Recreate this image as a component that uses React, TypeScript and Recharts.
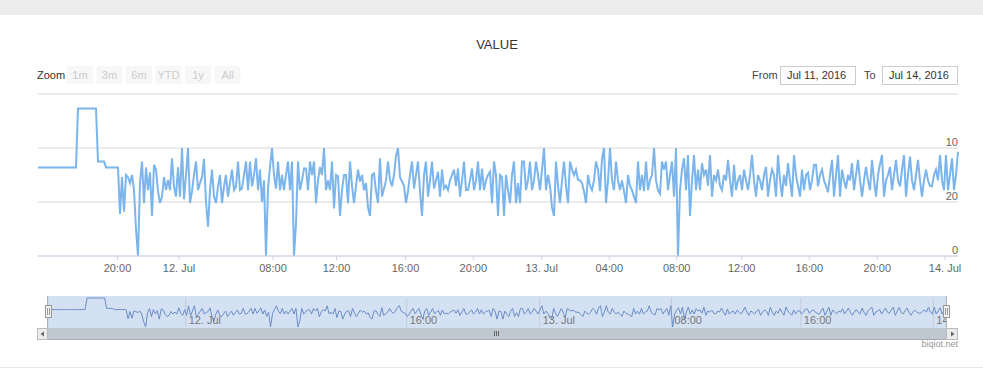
import { CartesianGrid, Line, LineChart, XAxis, YAxis } from "recharts";

// values, in point order (ordinal axis, points evenly spaced)
const startValues = [
  16.4, 16.4, 16.4, 16.4, 16.4, 16.4, 16.4, 16.4, 16.4, 16.4,
  16.4, 16.4, 16.4, 16.4, 16.4, 16.4, 16.4, 16.4, 16.4, 16.4,
  27.3, 27.3, 27.3, 27.3, 27.3, 27.3, 27.3, 27.3, 27.3, 27.3,
  17.5, 17.5, 17.5, 17.5,
  16.4, 16.4, 16.4, 16.4, 16.4, 16.4, 16.4,
];
const jul11Night = [
  7.8, 14.6, 8.2, 15, 14.6, 13.5, 15, 12.2, 5, 0,
  13.5, 17.5, 9.8, 16.4, 12.2, 15.5, 7.4, 16.9, 16, 12,
  9.8, 11, 14.6, 12.2, 14.1, 12.2, 18.1, 12.9, 11, 16.4,
  11, 20, 10.5, 15, 20, 9.8, 12, 15, 17.5,
];
const jul12Morning = [
  12.2, 13.5, 14.6, 18, 10, 5.4, 12.2, 16, 11, 9.8,
  12.9, 15, 9.8, 12.9, 15, 11, 13.5, 16, 12.2, 12.9,
  17.5, 12.2, 12.5, 15, 17.5, 12.2, 17.5, 12.9, 15, 18.1,
  12.2, 16, 10, 14, 0, 12.5, 16.5, 20, 15, 12.5,
  17.5, 12.2, 15, 12.2, 15, 17.5, 12.2, 17.5, 0, 6,
  17.5, 12.2, 14, 16.2, 16.2, 12.2, 17.5, 15, 17.5, 9.8,
  14, 16.5, 15, 20, 12.2, 14, 12.2, 17.5, 8.8, 15,
  14.8, 7.4, 12.2, 15, 15, 9.8, 17.5,
];
const jul12Afternoon = [
  13, 9.8, 13, 16, 13.8, 15, 12.2, 13.5, 9, 7.4,
  15, 15.3, 12, 9.8, 18.1, 11, 12.5, 14, 17.5, 14.1,
  12.9, 15, 18.5, 20, 14.6, 13.8, 13, 9.8, 12, 15,
  17.5, 12.5, 15, 17.5, 12, 7.4, 15, 17.5, 11, 14,
  17.5, 12.5, 14, 15.6, 11, 16, 12.5, 13, 12.2, 14,
  15, 16, 13, 16.2, 11, 14, 17.5, 12.2, 12.2, 14,
  16.2, 12.2, 14, 17.5, 12.2, 16.2, 12.2, 14, 15, 15.6,
  9.8, 17.5, 15, 7.4, 15, 14.6,
];
const jul13Early = [
  7.4, 15, 12.2, 9.8, 15, 17.5, 9.8, 13.5, 9.8, 17.5,
  17.5, 12.2, 14, 17.5, 12.2, 14, 17.5, 15, 12.2, 16,
  20, 12.2, 15, 13, 9, 7.4, 17.5, 13, 9.8, 14,
  17.5, 13, 9.8, 17.5, 16, 15, 16, 14.1, 14, 13.5,
  12, 9.8, 15, 13, 12.2, 14, 17.5, 16, 12, 18,
  20, 9.8, 14, 20, 14, 12.2, 17.5, 14, 12.2, 14,
  12, 9.8, 15, 13, 12.2, 11, 9.8, 17.5, 12.2, 15,
  12, 17.5, 12.2, 14, 15, 20, 14, 12.2,
];
const jul13Day = [
  11.5, 17.5, 16, 17.5, 12.2, 15, 17.5, 11, 20, 0,
  12.2, 16, 18.1, 12.2, 18.7, 7.4, 14, 18.7, 12.2, 16,
  12.2, 17.2, 15, 16, 13, 18.7, 11, 15, 14, 16,
  13, 12.2, 15, 14, 17.8, 14, 11, 16.9, 12.2, 14,
  15, 12.2, 16, 14, 12.2, 15, 18.7, 14, 11, 15,
  14, 12.2, 15, 16.5, 11, 14, 16, 15, 11, 18.7,
  14, 11, 15, 13, 17.2, 14, 11, 18.7, 15, 13,
  11, 16, 12.2, 15, 15.4, 12.2, 14, 16.9,
];
const jul13Evening = [
  16.9, 12.9, 15, 16, 14, 13, 11.8, 15, 17.8, 11,
  15, 18.7, 11, 16, 14, 12.5, 15, 14, 17.2, 12.2,
  15, 17.8, 14, 11, 14, 16.5, 14, 12.2, 17.8, 14,
  11, 15, 17, 18.7, 11, 14, 15, 16.5, 12.2, 15,
  17.8, 14, 12.9, 16, 18.7, 11, 15, 18.4, 14, 12.2,
  15, 17.8, 14, 11, 14, 16, 14, 13, 12.9, 15,
  16, 14, 18.7, 14, 12.2, 18.7, 12.2, 15, 18.1, 12.2,
  15, 19.3,
];

const values = [
  ...startValues,
  ...jul11Night,
  ...jul12Morning,
  ...jul12Afternoon,
  ...jul13Early,
  ...jul13Day,
  ...jul13Evening,
];

// point positions of the time labels
const xTickIndex = [39.75, 70.5, 117.5, 149.25, 183.75, 217.65, 251.85, 285.65, 319.35, 351.85, 385.65, 419.65, 453.5];
const xTickLabels = ["20:00", "12. Jul", "08:00", "12:00", "16:00", "20:00", "13. Jul", "04:00", "08:00", "12:00", "16:00", "20:00", "14. Jul"];
const navTickIndex = [70.5, 183.75, 251.85, 319.35, 385.65, 453.5];
const navTickLabels = ["12. Jul", "16:00", "13. Jul", "08:00", "16:00", "14. Jul"];
const yTicks = [0, 10, 20, 30];
const yTickLabels = ["0", "20", "10", ""];
const zoomButtons = ["1m", "3m", "6m", "YTD", "1y", "All"];
const dateFrom = "Jul 11, 2016";
const dateTo = "Jul 14, 2016";

const points = values.map((v, i) => ({ i, v }));
const font = "'Liberation Sans', Arial, sans-serif";

const YTick = (props: any) => {
  const { x, y, payload } = props;
  return (
    <text x={x} y={y - 2} textAnchor="end" fill="#666" fontSize={11} fontFamily={font}>
      {yTickLabels[yTicks.indexOf(payload.value)]}
    </text>
  );
};

const NavTick = (props: any) => {
  const { x, y, payload } = props;
  return (
    <text x={x + 3} y={y - 3} fill="#777" fontSize={11} fontFamily={font}>
      {navTickLabels[navTickIndex.indexOf(payload.value)]}
    </text>
  );
};

const App = () => {
  const last = values.length - 1;
  return (
    <div style={{ position: "relative", width: 983, height: 373, background: "#fff", overflow: "hidden", fontFamily: font }}>
      <style>{"body{margin:0}"}</style>

      <svg width={983} height={373} style={{ position: "absolute", left: 0, top: 0 }}>
        <rect x={0} y={0} width={983} height={15} fill="#ededed" />
        <text x={497} y={49} textAnchor="middle" fontSize={13} fill="#333">VALUE</text>
        <text x={37} y={79} fontSize={11} fill="#333">Zoom</text>
        {zoomButtons.map((b, k) => (
          <g key={b}>
            <rect x={67 + k * 29.5} y={66} width={26} height={18} fill="#f7f7f7" />
            <text x={80 + k * 29.5} y={79} textAnchor="middle" fontSize={11} fill="#cccccc">{b}</text>
          </g>
        ))}
        <text x={752} y={79} fontSize={11} fill="#444">From</text>
        <rect x={780.5} y={66.5} width={75} height={18} fill="#fff" stroke="#cccccc" />
        <text x={787} y={79} fontSize={11} fill="#333">{dateFrom}</text>
        <text x={864} y={79} fontSize={11} fill="#444">To</text>
        <rect x={882.5} y={66.5} width={75} height={18} fill="#fff" stroke="#cccccc" />
        <text x={889} y={79} fontSize={11} fill="#333">{dateTo}</text>
        <rect x={48} y={296} width={898} height={32} fill="#d4e1f3" />
        <text x={958} y={347} textAnchor="end" fontSize={9} fill="#999">biqiot.net</text>
        <line x1={0} y1={367.5} x2={983} y2={367.5} stroke="#e8e8e8" />
      </svg>

      <div style={{ position: "absolute", left: 0, top: 0 }}>
        <LineChart width={983} height={290} data={points} margin={{ top: 94, right: 25, bottom: 4, left: 38 }}>
          <CartesianGrid vertical={false} stroke="#d8d8d8" />
          <XAxis
            dataKey="i"
            type="number"
            domain={[0, last]}
            ticks={xTickIndex}
            interval={0}
            height={30}
            tickSize={4}
            tickMargin={4}
            tickFormatter={(v: number) => xTickLabels[xTickIndex.indexOf(v)]}
            axisLine={{ stroke: "#ccd6eb" }}
            tickLine={{ stroke: "#ccd6eb" }}
            tick={{ fill: "#666", fontSize: 11, fontFamily: font }}
          />
          <YAxis
            orientation="right"
            mirror
            width={25}
            domain={[0, 30]}
            ticks={yTicks}
            interval={0}
            axisLine={false}
            tickLine={false}
            tickSize={0}
            tickMargin={0}
            tick={<YTick />}
          />
          <Line type="linear" dataKey="v" stroke="#7cb5ec" strokeWidth={2} dot={false} isAnimationActive={false} />
        </LineChart>
      </div>

      <div style={{ position: "absolute", left: 48, top: 296, width: 898, height: 32, overflow: "hidden" }}>
        <LineChart width={898} height={32} data={points} margin={{ top: 2, right: 0, bottom: 0, left: 0 }}>
          <CartesianGrid horizontal={false} stroke="#c2cbdd" />
          <XAxis
            dataKey="i"
            type="number"
            domain={[0, last]}
            ticks={navTickIndex}
            interval={0}
            height={1}
            tickSize={0}
            tickMargin={0}
            axisLine={false}
            tickLine={false}
            tick={<NavTick />}
          />
          <YAxis hide domain={[0, "dataMax"]} />
          <Line type="linear" dataKey="v" stroke="#6c8dc6" strokeWidth={1} dot={false} isAnimationActive={false} />
        </LineChart>
      </div>

      <svg width={983} height={373} style={{ position: "absolute", left: 0, top: 0, pointerEvents: "none" }}>
        <line x1={47.5} y1={296} x2={47.5} y2={328} stroke="#b2b1b6" />
        <line x1={946.5} y1={296} x2={946.5} y2={328} stroke="#b2b1b6" />
        <rect x={45.5} y={305.5} width={6} height={12} fill="#f2f2f2" stroke="#999" />
        <line x1={47.5} y1={308} x2={47.5} y2={315} stroke="#999" />
        <line x1={49.5} y1={308} x2={49.5} y2={315} stroke="#999" />
        <rect x={943.5} y={305.5} width={6} height={12} fill="#f2f2f2" stroke="#999" />
        <line x1={945.5} y1={308} x2={945.5} y2={315} stroke="#999" />
        <line x1={947.5} y1={308} x2={947.5} y2={315} stroke="#999" />

        <rect x={37} y={328} width={921} height={12} fill="#eeeeee" />
        <rect x={48} y={328} width={898} height={11} fill="#bfc8d1" />
        <line x1={37} y1={339.5} x2={958} y2={339.5} stroke="#a9aeb5" />
        <rect x={37.5} y={328.5} width={10} height={11} fill="#ebebeb" stroke="#bbb" />
        <polygon points="40.5,334 44,331.5 44,336.5" fill="#666" />
        <rect x={946.5} y={328.5} width={11} height={11} fill="#ebebeb" stroke="#bbb" />
        <polygon points="954.5,334 951,331.5 951,336.5" fill="#666" />
        <line x1={494.5} y1={331} x2={494.5} y2={336} stroke="#666" />
        <line x1={496.5} y1={331} x2={496.5} y2={336} stroke="#666" />
        <line x1={498.5} y1={331} x2={498.5} y2={336} stroke="#666" />
      </svg>
    </div>
  );
};

export default App;
